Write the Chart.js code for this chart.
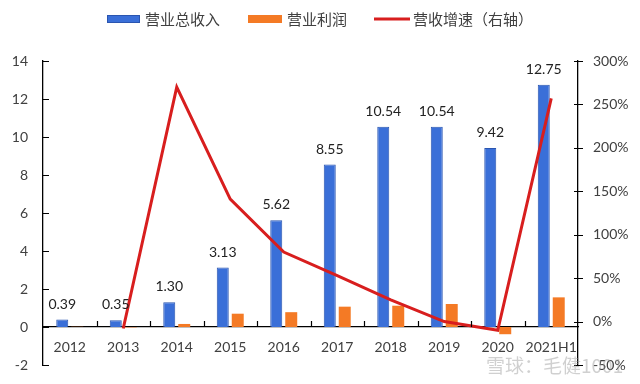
<!DOCTYPE html>
<html>
<head>
<meta charset="utf-8">
<script src="https://cdn.jsdelivr.net/npm/chart.js@4.4.1/dist/chart.umd.min.js"></script>
<style>
  html, body { margin: 0; padding: 0; background: #fff; }
  #wrap { width: 640px; height: 384px; position: relative; }
</style>
</head>
<body>
<div id="wrap"><canvas id="chart" width="640" height="384"></canvas></div>
<script>
// chart data
const years = ["2012", "2013", "2014", "2015", "2016", "2017", "2018", "2019", "2020", "2021H1"];
const revenue = [0.39, 0.35, 1.30, 3.13, 5.62, 8.55, 10.54, 10.54, 9.42, 12.75];
const profit = [0.01, -0.02, 0.16, 0.70, 0.78, 1.07, 1.12, 1.21, -0.38, 1.56];
const growth = [null, -8, 270, 141, 80, 53, 25, 0, -10, 257];
const seriesNames = ["营业总收入", "营业利润", "营收增速（右轴）"];

const NUM_FONT = "Lato, 'Liberation Sans', sans-serif";
const CJK_FONT = "'Noto Sans CJK SC', 'Noto Sans', sans-serif";
const TEXT = "#404040";

// values over the revenue bars
const barLabels = {
  id: "barLabels",
  afterDatasetsDraw(chart) {
    const ctx = chart.ctx;
    const meta = chart.getDatasetMeta(0);
    ctx.save();
    ctx.font = "14px " + NUM_FONT;
    ctx.fillStyle = "#222";
    ctx.textAlign = "center";
    ctx.textBaseline = "alphabetic";
    meta.data.forEach((bar, i) => {
      ctx.fillText(revenue[i].toFixed(2), bar.x, bar.y - 11);
    });
    ctx.restore();
  }
};

// category labels under the zero line + small Excel-style tick marks
const axisTicks = {
  id: "axisTicks",
  afterDraw(chart) {
    const ctx = chart.ctx;
    const { x, y, y1 } = chart.scales;
    const zero = y.getPixelForValue(0);
    ctx.save();
    ctx.font = "14px " + NUM_FONT;
    ctx.fillStyle = TEXT;
    ctx.textAlign = "center";
    ctx.textBaseline = "middle";
    years.forEach((lab, i) => {
      ctx.fillText(lab, x.getPixelForTick(i), zero + 20);
    });

    ctx.strokeStyle = "#000";
    ctx.lineWidth = 1.2;
    ctx.beginPath();
    y.ticks.forEach(t => {
      const py = Math.round(y.getPixelForValue(t.value)) + 0.5;
      ctx.moveTo(x.left, py);
      ctx.lineTo(x.left + 6, py);
    });
    y1.ticks.forEach(t => {
      const py = Math.round(y1.getPixelForValue(t.value)) + 0.5;
      ctx.moveTo(x.right - 4, py);
      ctx.lineTo(x.right + 5, py);
    });
    const step = (x.right - x.left) / years.length;
    for (let i = 1; i < years.length; i++) {
      const px = Math.round(x.left + step * i) + 0.5;
      ctx.moveTo(px, zero);
      ctx.lineTo(px, zero - 6);
    }
    ctx.stroke();
    ctx.restore();
  }
};

// legend and watermark
const topLegend = {
  id: "topLegend",
  afterDraw(chart) {
    const ctx = chart.ctx;
    ctx.save();
    ctx.font = "15px " + CJK_FONT;
    ctx.textBaseline = "middle";
    const ly = 19;
    ctx.fillStyle = "#3a6fd8";
    ctx.fillRect(107, ly - 4, 33, 8);
    ctx.strokeStyle = "#2a55b0";
    ctx.lineWidth = 1;
    ctx.strokeRect(107.5, ly - 3.5, 32, 7);
    ctx.fillStyle = "#f47a25";
    ctx.fillRect(248, ly - 4, 34, 8);
    ctx.strokeStyle = "#d81e1e";
    ctx.lineWidth = 3;
    ctx.beginPath();
    ctx.moveTo(374, ly);
    ctx.lineTo(410, ly);
    ctx.stroke();
    ctx.fillStyle = TEXT;
    ctx.fillText(seriesNames[0], 145, ly);
    ctx.fillText(seriesNames[1], 287, ly);
    ctx.fillText(seriesNames[2], 413, ly);

    ctx.font = "19px " + CJK_FONT;
    ctx.fillStyle = "rgba(150,150,150,0.45)";
    ctx.fillText("雪球：毛健1001", 486, 366);
    ctx.restore();
  }
};

new Chart(document.getElementById("chart"), {
  type: "bar",
  data: {
    labels: years,
    datasets: [
      {
        label: seriesNames[0],
        data: revenue,
        backgroundColor: "#3a6fd8",
        borderColor: "#2a55b0",
        borderWidth: 1,
        yAxisID: "y",
        categoryPercentage: 0.56,
        barPercentage: 0.8,
        order: 2
      },
      {
        label: seriesNames[1],
        data: profit,
        backgroundColor: "#f47a25",
        borderWidth: 0,
        yAxisID: "y",
        categoryPercentage: 0.56,
        barPercentage: 0.8,
        order: 2
      },
      {
        type: "line",
        label: seriesNames[2],
        data: growth,
        borderColor: "#d81e1e",
        borderWidth: 3,
        pointRadius: 0,
        tension: 0,
        fill: false,
        yAxisID: "y1",
        order: 1
      }
    ]
  },
  options: {
    responsive: false,
    animation: false,
    layout: { padding: { left: 0, right: 0, top: 61, bottom: 19 } },
    plugins: {
      legend: { display: false },
      tooltip: { enabled: false }
    },
    scales: {
      x: {
        position: { y: 0 },
        offset: true,
        grid: { display: false, drawTicks: false },
        border: { display: true, color: "#000", width: 1.3 },
        ticks: { display: false, autoSkip: false }
      },
      y: {
        position: "left",
        min: -2,
        max: 14,
        // tick length is only used as spacing; marks are drawn by axisTicks
        grid: { display: false, drawTicks: true, tickLength: 11 },
        border: { display: true, color: "#000", width: 1.3 },
        ticks: { stepSize: 2, color: TEXT, font: { family: NUM_FONT, size: 14 }, padding: 4 },
        afterFit(s) { s.width = 43; }
      },
      y1: {
        position: "right",
        min: -50,
        max: 300,
        grid: { display: false, drawTicks: true, tickLength: 11 },
        border: { display: true, color: "#000", width: 1.3 },
        ticks: {
          stepSize: 50,
          color: TEXT,
          font: { family: NUM_FONT, size: 14 },
          padding: 4,
          callback: v => v + "%"
        },
        afterFit(s) { s.width = 62; }
      }
    }
  },
  plugins: [barLabels, axisTicks, topLegend]
});
</script>
</body>
</html>
